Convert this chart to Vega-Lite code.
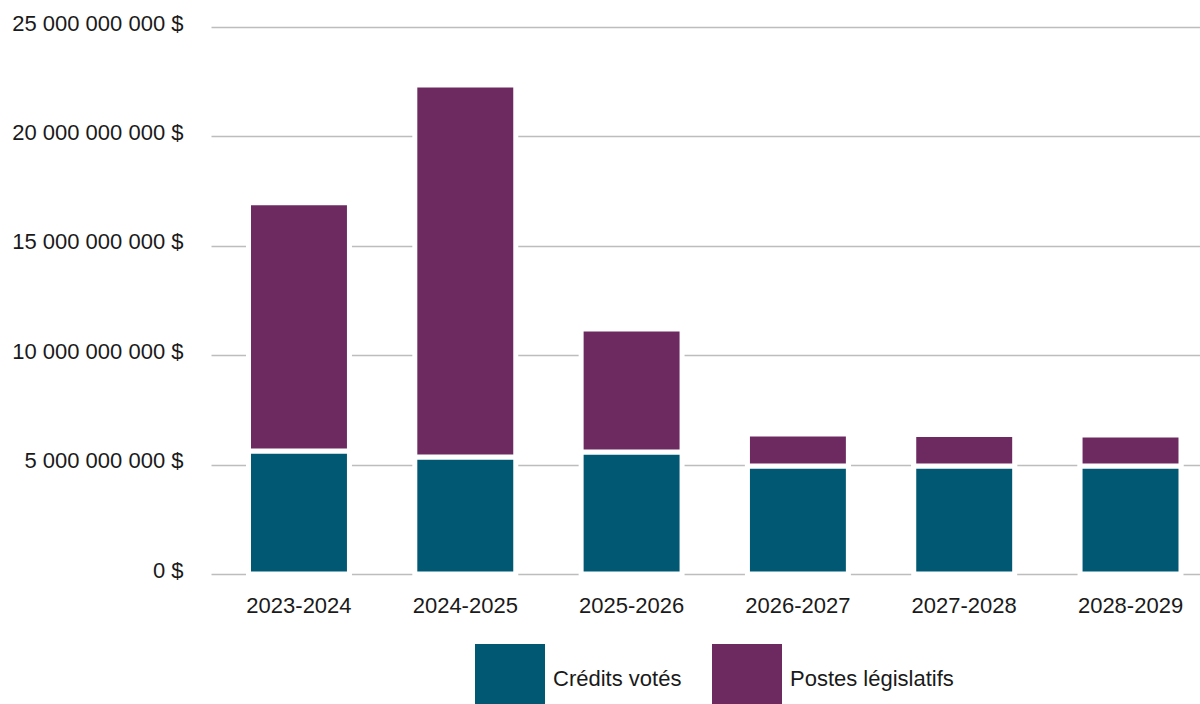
{
  "$schema": "https://vega.github.io/schema/vega-lite/v6.json",
  "autosize": {"type": "none"},
  "width": 989,
  "height": 547,
  "padding": {"left": 211, "top": 27, "right": 0, "bottom": 130},
  "background": "white",
  "config": {
    "view": {"stroke": null},
    "font": "Liberation Sans"
  },
  "data": {
    "values": [
      {"annee": "2023-2024", "type": "Crédits votés", "montant": 5620000000},
      {"annee": "2023-2024", "type": "Postes législatifs", "montant": 11350000000},
      {"annee": "2024-2025", "type": "Crédits votés", "montant": 5350000000},
      {"annee": "2024-2025", "type": "Postes législatifs", "montant": 17000000000},
      {"annee": "2025-2026", "type": "Crédits votés", "montant": 5580000000},
      {"annee": "2025-2026", "type": "Postes législatifs", "montant": 5620000000},
      {"annee": "2026-2027", "type": "Crédits votés", "montant": 4940000000},
      {"annee": "2026-2027", "type": "Postes législatifs", "montant": 1460000000},
      {"annee": "2027-2028", "type": "Crédits votés", "montant": 4940000000},
      {"annee": "2027-2028", "type": "Postes législatifs", "montant": 1430000000},
      {"annee": "2028-2029", "type": "Crédits votés", "montant": 4940000000},
      {"annee": "2028-2029", "type": "Postes législatifs", "montant": 1410000000}
    ]
  },
  "mark": {"type": "bar", "stroke": "white", "strokeWidth": 5},
  "encoding": {
    "x": {
      "field": "annee",
      "type": "nominal",
      "sort": null,
      "scale": {"range": [0, 1007.5], "paddingInner": 0.393, "paddingOuter": 0.2255},
      "axis": {
        "title": null,
        "labelAngle": 0,
        "domain": false,
        "ticks": false,
        "labelFont": "Liberation Sans",
        "labelFontSize": 22,
        "labelColor": "#1a1a1a",
        "labelPadding": 21
      }
    },
    "y": {
      "field": "montant",
      "type": "quantitative",
      "stack": "zero",
      "scale": {"domain": [0, 25000000000], "nice": false},
      "axis": {
        "title": null,
        "values": [0, 5000000000, 10000000000, 15000000000, 20000000000, 25000000000],
        "labelExpr": "replace(format(datum.value, ',.0f'), /,/g, ' ') + ' $'",
        "domain": false,
        "ticks": false,
        "grid": true,
        "gridColor": "#bdbdbd",
        "gridWidth": 1.6,
        "labelFont": "Liberation Sans",
        "labelFontSize": 22,
        "labelColor": "#1a1a1a",
        "labelPadding": 28,
        "labelOffset": -4,
        "labelBaseline": "middle"
      }
    },
    "color": {
      "field": "type",
      "type": "nominal",
      "scale": {
        "domain": ["Crédits votés", "Postes législatifs"],
        "range": ["#005873", "#6d2a61"]
      },
      "legend": {
        "title": null,
        "orient": "none",
        "legendX": 264,
        "legendY": 617,
        "direction": "horizontal",
        "padding": 0,
        "symbolType": "square",
        "symbolSize": 4900,
        "symbolStrokeWidth": 0,
        "symbolOpacity": 1,
        "labelFont": "Liberation Sans",
        "labelFontSize": 22,
        "labelColor": "#1a1a1a",
        "labelOffset": 8,
        "columnPadding": 30,
        "labelLimit": 400
      }
    },
    "order": {"field": "type", "sort": "ascending"}
  }
}
